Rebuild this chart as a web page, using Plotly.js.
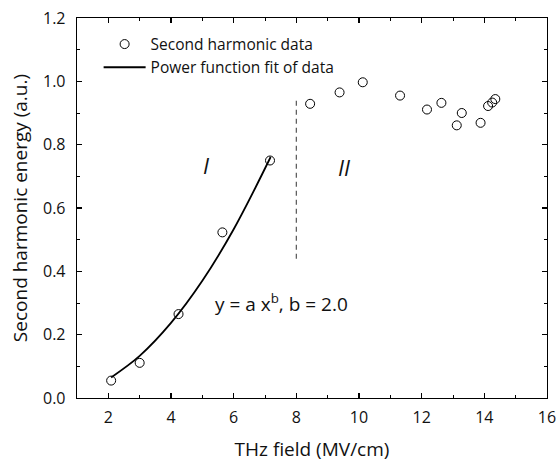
<!DOCTYPE html>
<html>
<head>
<meta charset="utf-8">
<script src="https://cdn.plot.ly/plotly-3.0.1.min.js"></script>
<style>html,body{margin:0;padding:0;background:#fff;}#chart{width:556px;height:462px;}</style>
</head>
<body>
<div id="chart"></div>
<script>
// Data
const fieldData = [2.09, 3.0, 4.24, 5.64, 7.16, 8.44, 9.38, 10.12, 11.31, 12.17, 12.63, 13.12, 13.28, 13.88, 14.12, 14.25, 14.35];
const shgData   = [0.055, 0.111, 0.265, 0.523, 0.750, 0.929, 0.965, 0.997, 0.955, 0.911, 0.932, 0.861, 0.900, 0.869, 0.922, 0.933, 0.944];
const fitX = [2.09, 3.0, 4.0, 5.0, 6.0, 7.18];
const fitY = [0.065, 0.133, 0.237, 0.370, 0.533, 0.761];
const dividerX = [8.0, 8.0];
const dividerY = [0.44, 0.95];
const xTicks = [2, 4, 6, 8, 10, 12, 14, 16];
const yTicks = [0.0, 0.2, 0.4, 0.6, 0.8, 1.0, 1.2];
const yTickText = ['0.0', '0.2', '0.4', '0.6', '0.8', '1.0', '1.2'];

const FONT = 'Open Sans, Noto Sans, sans-serif';

const traces = [
  {
    x: fieldData, y: shgData, type: 'scatter', mode: 'markers',
    name: 'Second harmonic data',
    marker: {symbol: 'circle-open', size: 9, color: '#000', line: {width: 1, color: '#000'}}
  },
  {
    x: fitX, y: fitY, type: 'scatter', mode: 'lines',
    name: 'Power function fit of data',
    line: {color: '#000', width: 1.8, shape: 'spline'}
  },
  {
    x: dividerX, y: dividerY, type: 'scatter', mode: 'lines',
    showlegend: false, hoverinfo: 'skip',
    line: {color: '#555', width: 1.2, dash: '5px,4px'}
  }
];

const axisCommon = {
  showline: true, linecolor: '#000', linewidth: 1.3, mirror: 'ticks',
  ticks: 'inside', ticklen: 5, tickwidth: 1.2, tickcolor: '#000',
  showgrid: false, zeroline: false,
  ticklabeloverflow: 'allow',
  tickfont: {family: FONT, size: 16, color: '#111'}
};

const layout = {
  width: 556, height: 462,
  margin: {l: 76.5, r: 9, t: 17.5, b: 64},
  paper_bgcolor: '#fff', plot_bgcolor: '#fff',
  font: {family: FONT, color: '#111'},
  showlegend: true,
  legend: {
    x: 0.046, y: 0.975, xanchor: 'left', yanchor: 'top',
    bgcolor: 'rgba(0,0,0,0)', borderwidth: 0,
    font: {family: FONT, size: 15.5, color: '#111'},
    itemwidth: 42, tracegroupgap: 0
  },
  xaxis: Object.assign({}, axisCommon, {
    range: [1, 16], tickmode: 'array', tickvals: xTicks,
    minor: {dtick: 1, ticks: 'inside', ticklen: 3, tickwidth: 1, tickcolor: '#000'},
    ticklabelstandoff: 4,
    title: {text: 'THz field (MV/cm)', font: {family: FONT, size: 19, color: '#111'}, standoff: 22}
  }),
  yaxis: Object.assign({}, axisCommon, {
    range: [0, 1.2], tickmode: 'array', tickvals: yTicks, ticktext: yTickText,
    minor: {dtick: 0.1, ticks: 'inside', ticklen: 3, tickwidth: 1, tickcolor: '#000'},
    ticklabelstandoff: 7,
    title: {text: 'Second harmonic energy (a.u.)', font: {family: FONT, size: 19, color: '#111'}, standoff: 10}
  }),
  annotations: [
    {x: 5.13, y: 0.735, xref: 'x', yref: 'y', text: '<i>I</i>', showarrow: false,
     font: {family: FONT, size: 22, color: '#111'}},
    {x: 9.54, y: 0.73, xref: 'x', yref: 'y', text: '<i>II</i>', showarrow: false,
     font: {family: FONT, size: 22, color: '#111'}},
    {x: 7.54, y: 0.30, xref: 'x', yref: 'y', text: 'y = a x<sup>b</sup>, b = 2.0', showarrow: false,
     font: {family: FONT, size: 19, color: '#111'}}
  ]
};

Plotly.newPlot('chart', traces, layout, {displayModeBar: false, staticPlot: true});
</script>
</body>
</html>
